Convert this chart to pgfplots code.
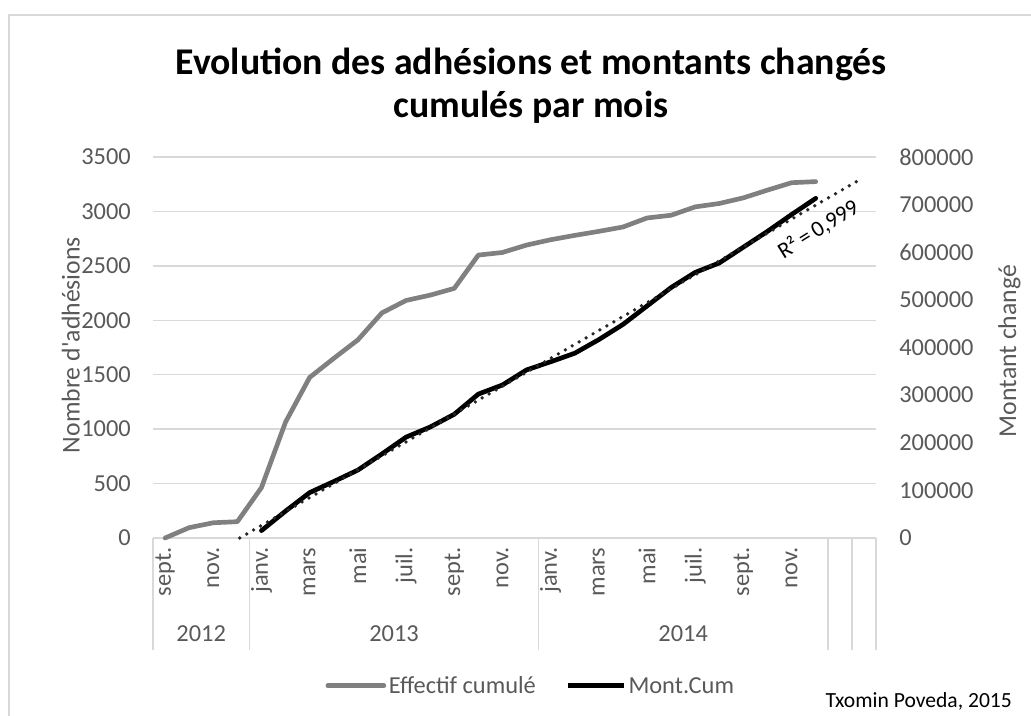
\documentclass[border=0pt]{standalone}
\usepackage{pgfplots}
\pgfplotsset{compat=1.18}
\usepackage{fontspec}
\setmainfont{Carlito}

\definecolor{gridgray}{HTML}{D9D9D9}
\definecolor{txtgray}{HTML}{595959}
\definecolor{effectif}{HTML}{808080}

% Effectif cumule (left axis), month index 0 = sept. 2012
\pgfplotstableread{
idx val
0  0
1  95
2  140
3  150
4  463
5  1065
6  1475
7  1650
8  1820
9  2068
10 2182
11 2231
12 2293
13 2599
14 2623
15 2691
16 2740
17 2780
18 2817
19 2857
20 2940
21 2965
22 3042
23 3073
24 3125
25 3196
26 3264
27 3274
}\effectif

% Mont.Cum (right axis)
\pgfplotstableread{
idx val
4  15500
5  56500
6  95300
7  118600
8  142600
9  176500
10 211800
11 233000
12 259800
13 302200
14 321300
15 353000
16 370000
17 388000
18 416600
19 448400
20 487200
21 526000
22 557800
23 577600
24 610800
25 644000
26 679300
27 713200
}\montcum

\newcommand{\tickfont}{\fontsize{18.3}{21}\selectfont}
\newcommand{\labfont}{\fontsize{19.3}{22}\selectfont}

\begin{document}
\begin{tikzpicture}
\path[use as bounding box] (0,0) rectangle (773.25pt,536.25pt);
\draw[gridgray, line width=0.8pt] (6.75pt,-2pt) -- (6.75pt,525pt) -- (776pt,525pt);

\node[align=center, font=\fontsize{28.3}{32.25}\selectfont\bfseries] at (398.25pt,472.2pt)
  {Evolution des adhésions et montants changés\\cumulés par mois};

\node[rotate=90, text=txtgray, font=\labfont] at (53pt,277.5pt) {Nombre d\textquotesingle adhésions};
\node[rotate=90, text=txtgray, font=\labfont] at (757pt,273pt) {Montant changé};

\node[anchor=west, font=\fontsize{16.2}{19}\selectfont, inner sep=0pt] at (619pt,10pt) {Txomin Poveda, 2015};

\begin{axis}[
    at={(114.75pt,132.75pt)}, anchor=south west,
    scale only axis, width=542.25pt, height=285.75pt,
    xmin=-0.5, xmax=29.5, ymin=0, ymax=3500,
    ytick={0,500,...,3500},
    xtick={0,2,...,26},
    xticklabels={sept.,nov.,janv.,mars,mai,juil.,sept.,nov.,janv.,mars,mai,juil.,sept.,nov.},
    axis line style={draw=none},
    tick style={draw=none},
    ymajorgrids,
    grid style={gridgray, line width=1.1pt},
    tick label style={inner sep=0pt, text=txtgray, font=\tickfont},
    xticklabel style={yshift=-7pt, rotate=90, anchor=east},
    yticklabel style={anchor=east, xshift=-16.5pt},
    /pgf/number format/1000 sep={},
    /pgf/number format/assume math mode=true,
    clip=false,
    legend style={at={(0.523,-0.388)}, anchor=center, draw=none, fill=none,
        legend columns=2, font=\tickfont, text=txtgray,
        /tikz/every even column/.append style={column sep=20pt}},
    legend image code/.code={\draw[#1] (0pt,0pt) -- (42pt,0pt);},
]
\addplot[effectif, line width=3.5pt, line join=round, line cap=round] table[x=idx, y=val] {\effectif};
\addlegendentry{Effectif cumulé\vphantom{fé}}
\addlegendimage{black, line width=3.5pt}
\addlegendentry{Mont.Cum\vphantom{fé}}

% category group frame
\pgfplotsinvokeforeach{-0.5,3.5,15.5,27.5,28.5,29.5}{
  \draw[gridgray, line width=1.1pt] (axis cs:#1,0) -- ++(0pt,-84pt);
}
\node[text=txtgray, font=\tickfont] at ([yshift=-71.5pt]axis cs:1.5,0) {2012};
\node[text=txtgray, font=\tickfont] at ([yshift=-71.5pt]axis cs:9.5,0) {2013};
\node[text=txtgray, font=\tickfont] at ([yshift=-71.5pt]axis cs:21.5,0) {2014};
\end{axis}

\begin{axis}[
    at={(114.75pt,132.75pt)}, anchor=south west,
    scale only axis, width=542.25pt, height=285.75pt,
    xmin=-0.5, xmax=29.5, ymin=0, ymax=800000,
    xtick=\empty,
    ytick={0,100000,...,800000},
    yticklabel pos=right,
    scaled y ticks=false,
    axis line style={draw=none},
    tick style={draw=none},
    tick label style={inner sep=0pt, text=txtgray, font=\tickfont},
    yticklabel style={anchor=west, xshift=17.25pt},
    /pgf/number format/fixed,
    /pgf/number format/1000 sep={},
    /pgf/number format/assume math mode=true,
    clip=false,
]
\addplot[black, line width=3.5pt, line join=round, line cap=round] table[x=idx, y=val] {\montcum};
% linear trendline, end points
\addplot[black!85, line width=2.8pt, line cap=round, dash pattern=on 0pt off 6pt] coordinates {(3.1,0) (28.8,751600)};
\node[rotate=32, font=\fontsize{17}{19}\selectfont] at (axis cs:27.1,648000) {R²\,=\,0,999};
\end{axis}
\end{tikzpicture}
\end{document}
